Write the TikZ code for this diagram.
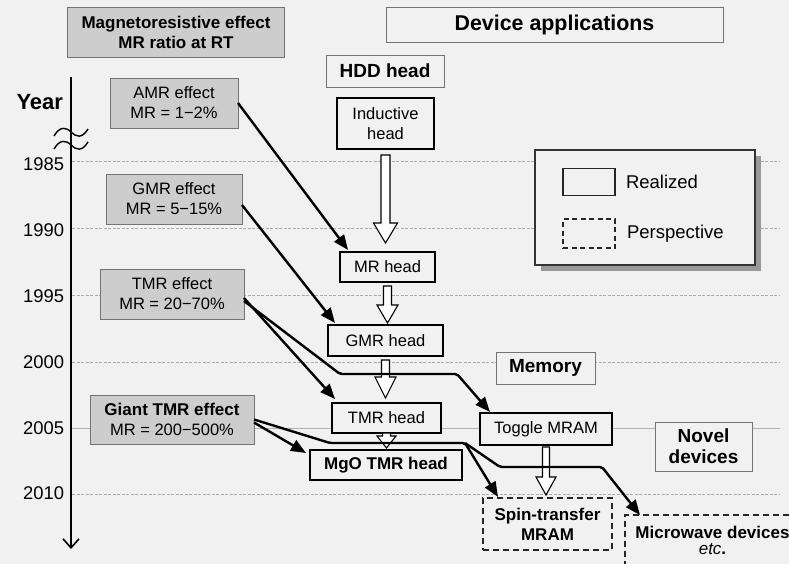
\documentclass[tikz,border=0pt]{standalone}
\usepackage{fontspec}
\setmainfont{Liberation Sans}
\usetikzlibrary{arrows.meta,shadows,calc}
\definecolor{bg}{RGB}{241,241,241}
\definecolor{effill}{RGB}{205,205,205}
\definecolor{hdrline}{RGB}{115,115,115}
\definecolor{gridc}{RGB}{170,170,170}
\newcommand\blockarrow[7]{%
  \draw[harrow] let \p1=(#1.south), \p2=(#2.north) in
    ({\x1-#6pt},{\y1-#3pt}) -- ({\x1+#6pt},{\y1-#3pt}) -- ({\x1+#6pt},{\y2+#4pt+#5pt}) --
    ({\x1+#7pt},{\y2+#4pt+#5pt}) -- ({\x1},{\y2+#4pt}) -- ({\x1-#7pt},{\y2+#4pt+#5pt}) --
    ({\x1-#6pt},{\y2+#4pt+#5pt}) -- cycle;}
\begin{document}
\begin{tikzpicture}[x=1pt,y=-1pt,
  every node/.style={inner sep=0pt, outer sep=0pt, align=center},
  effect/.style={draw=hdrline, line width=0.9pt, fill=effill, font=\fontsize{16.5}{20}\selectfont},
  header/.style={draw=hdrline, line width=0.9pt, fill=bg, font=\bfseries\fontsize{19}{21}\selectfont},
  device/.style={draw=black, line width=1.3pt, fill=bg, font=\fontsize{16.5}{20}\selectfont},
  persp/.style={draw=black!85, line width=1.3pt, dash pattern=on 6pt off 4pt, fill=bg, font=\bfseries\fontsize{17}{20}\selectfont},
  conn/.style={line width=2.4pt, -{Triangle[length=15pt,width=12pt]}, rounded corners=2pt},
  harrow/.style={draw=black, line width=1.1pt, fill=white},
  gridl/.style={draw=gridc, line width=0.7pt, dash pattern=on 3pt off 1.5pt},
  year/.style={anchor=east, font=\fontsize{18.4}{20}\selectfont}]
\useasboundingbox (0,0) rectangle (789,564);
\clip (0,0) rectangle (789,564);
\fill[bg] (0,0) rectangle (789,564);

% grid lines
\foreach \yy in {161,228,295,362,494} \draw[gridl] (72,\yy) -- (780,\yy);
\draw[draw=gridc!90, line width=0.7pt] (72,428) -- (780,428);

% time axis
\coordinate (axtop) at (71,77);
\coordinate (axbot) at (71,549);
\draw[line width=1.6pt, -{Straight Barb[length=9pt,width=16pt,line width=1.6pt]}] (axtop) -- (axbot);
\draw[line width=1.4pt] (54,136) .. controls (60,126) and (66,127) .. (71,132) .. controls (76,137) and (82,139) .. (88,129);
\draw[line width=1.4pt] (54,149) .. controls (60,139) and (66,140) .. (71,145) .. controls (76,150) and (82,152) .. (88,142);

\node[year, font=\bfseries\fontsize{22}{24}\selectfont] (yyear) at (63,102) {Year};
\node[year] (y1985) at (64,164) {1985};
\node[year] (y1990) at (64,230) {1990};
\node[year] (y1995) at (64,296) {1995};
\node[year] (y2000) at (64,362) {2000};
\node[year] (y2005) at (64,428) {2005};
\node[year] (y2010) at (64,493) {2010};

% headers
\node[header, fill=effill, font=\bfseries\fontsize{17}{20}\selectfont, minimum width=217pt, minimum height=50pt] (mre) at (176,32) {Magnetoresistive effect\\MR ratio at RT};
\node[header, font=\bfseries\fontsize{21.4}{23}\selectfont, minimum width=337pt, minimum height=35pt] (dev) at (554.5,25) {Device applications};
\node[header, minimum width=118pt, minimum height=32pt] (hdd) at (385,71) {HDD head};
\node[header, minimum width=99pt, minimum height=32pt] (mem) at (545.5,368) {Memory};
\node[header, minimum width=97pt, minimum height=49pt] (nov) at (703.5,446.5) {Novel\\devices};

% effect boxes
\node[effect, minimum width=128pt, minimum height=50pt] (amr) at (174,103) {AMR effect\\MR = 1−2\%};
\node[effect, minimum width=136pt, minimum height=50pt] (gmr) at (174,199) {GMR effect\\MR = 5−15\%};
\node[effect, minimum width=144pt, minimum height=50pt] (tmr) at (172,294) {TMR effect\\MR = 20−70\%};
\node[effect, minimum width=164pt, minimum height=49pt] (gtmr) at (172,419.5) {{\bfseries\fontsize{17}{20}\selectfont Giant TMR effect}\\MR = 200−500\%};

% device boxes
\node[device, minimum width=97pt, minimum height=51pt] (ind) at (385.5,123.5) {Inductive\\head};
\node[device, minimum width=95pt, minimum height=30pt] (mrh) at (387.5,267) {MR head};
\node[device, minimum width=115pt, minimum height=31pt] (gmrh) at (385.5,340.5) {GMR head};
\node[device, minimum width=109pt, minimum height=30pt] (tmrh) at (386.5,418) {TMR head};
\node[device, font=\bfseries\fontsize{17}{20}\selectfont, minimum width=152pt, minimum height=30pt] (mgo) at (386,465) {MgO TMR head};
\node[device, minimum width=132pt, minimum height=32pt] (tog) at (546,429) {Toggle MRAM};
\node[persp, minimum width=129pt, minimum height=52pt] (stt) at (547.5,524) {Spin-transfer\\MRAM};
\node[persp, anchor=north west, minimum width=175pt, minimum height=64pt] (mw) at (625,515) {};
\node[anchor=north, font=\bfseries\fontsize{17}{16.5}\selectfont] (mwt) at ([yshift=-11pt]mw.north) {Microwave devices\\{\normalfont\itshape\fontsize{17}{16.5}\selectfont etc}.};

% legend
\node[draw=black!80, line width=1.1pt, fill=bg, minimum width=220pt, minimum height=115pt,
  drop shadow={shadow xshift=6pt, shadow yshift=-6pt, fill=gray!80, opacity=1}] (leg) at (645,207.5) {};
\node[draw=black!85, line width=1.1pt, minimum width=52pt, minimum height=27pt] (lreal) at (589,182) {};
\node[anchor=west, font=\fontsize{18.5}{20}\selectfont] (treal) at (626,182) {Realized};
\node[draw=black!85, line width=1.1pt, dash pattern=on 5pt off 3.5pt, minimum width=52pt, minimum height=29pt] (lpersp) at (589,233.5) {};
\node[anchor=west, font=\fontsize{18.5}{20}\selectfont] (tpersp) at (627,234) {Perspective};

% hollow block arrows
\blockarrow{ind}{mrh}{6}{9}{20}{4.5}{12}
\blockarrow{mrh}{gmrh}{4}{2}{18}{4}{10.5}
\blockarrow{gmrh}{tmrh}{4}{5}{21}{4}{10.5}
\blockarrow{tmrh}{mgo}{0}{2}{12}{4}{9.5}
\blockarrow{tog}{stt}{2}{3}{18}{3.5}{10}

% bend points
\coordinate (b1) at (340,374);
\coordinate (b2) at (457,374);
\coordinate (c1) at (330,443);
\coordinate (c2) at (465,443);
\coordinate (c3) at (500,467);
\coordinate (c4) at (602,467);

% connectors
\draw[conn] (amr.east) -- ([xshift=8pt,yshift=2pt]mrh.north west);
\draw[conn] ([yshift=-6pt]gmr.east) -- ([xshift=7pt,yshift=2pt]gmrh.north west);
\draw[conn] ([yshift=-4pt]tmr.east) -- ([xshift=3pt,yshift=4pt]tmrh.north west);
\draw[conn] ([yshift=-7pt]tmr.east) -- (b1) -- (b2) -- ([xshift=10pt,yshift=1pt]tog.north west);
\draw[conn] ([yshift=-3pt]gtmr.east) -- ([xshift=-4pt,yshift=-3pt]mgo.north west);
\draw[conn] (gtmr.east) -- (c1) -- (c2) -- ([xshift=15pt,yshift=1pt]stt.north west);
\draw[conn] (c2) -- (c3) -- (c4) -- ([xshift=15pt]mw.north west);
\end{tikzpicture}
\end{document}
